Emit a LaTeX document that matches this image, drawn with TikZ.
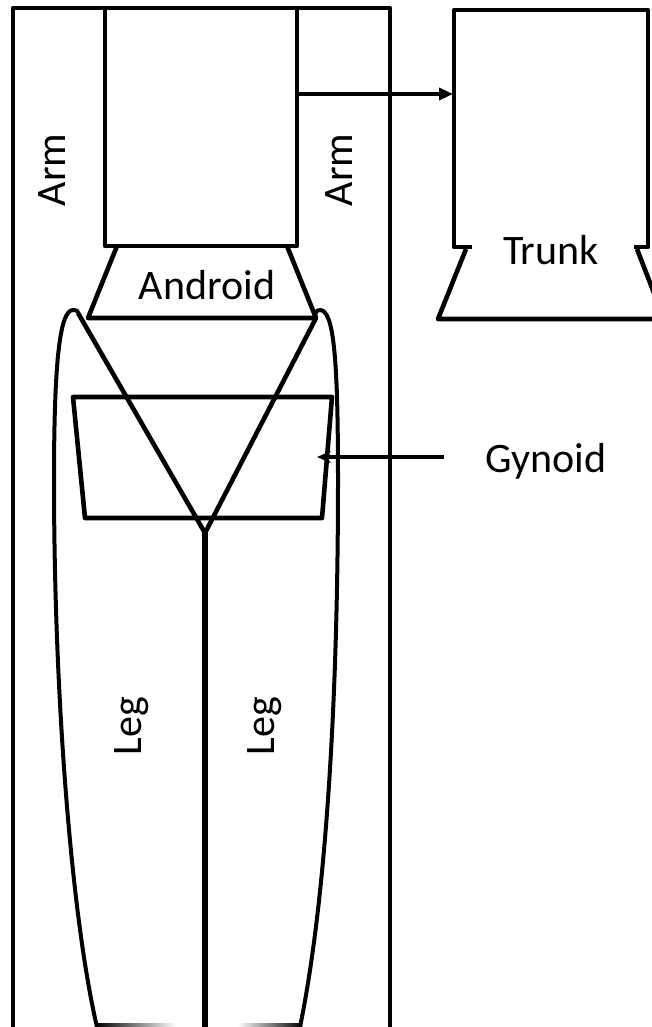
\documentclass[tikz,border=0pt]{standalone}
\usepackage{fontspec}
\setmainfont{Carlito}
\usetikzlibrary{arrows.meta}
\begin{document}
\begin{tikzpicture}[x=1pt,y=-1pt,
  ln/.style={draw=black, line width=4.6pt, line join=round},
  lbl/.style={font=\fontsize{42}{50}\selectfont, inner sep=0pt},
  vlbl/.style={lbl, rotate=90},
  tip/.style={-{Triangle[length=14pt,width=12pt]}},
  opentip/.style={-{Stealth[length=14pt,width=12pt,inset=5pt]}}]
\useasboundingbox (0,0) rectangle (652,1027);
\clip (0,0) rectangle (652,1027);
% outer body frame
\draw[ln] (13,1045) -- (13,8) -- (390,8) -- (390,1045);
% torso box
\draw[ln] (105,8) rectangle (297,246);
% android trapezoid
\draw[ln] (117,246) -- (88,318) -- (316,318) -- (287,246);
% gynoid box
\draw[ln] (73,397) -- (332,397) -- (322,518) -- (85,518) -- cycle;
% V and centre line
\coordinate (vl) at (78,313);
\coordinate (vr) at (316,318);
\coordinate (vb) at (205,533);
\coordinate (vend) at (205,1045);
\draw[ln] (vl) -- (vb) -- (vr);
\draw[ln, line width=5.5pt] (vb) -- (vend);
% legs
\draw[ln, line width=4pt] (97,1027) .. controls (72,920) and (54,700) .. (54,480)
  .. controls (54,360) and (60,310) .. (73,310) .. controls (77,310) and (79,312) .. (vl);
\draw[ln, line width=4pt] (300,1027) .. controls (326,900) and (338,700) .. (338,480)
  .. controls (338,360) and (334,310) .. (320,310) .. controls (316,310) and (314,314) .. (vr);
\shade[left color=black, right color=white] (96,1023) rectangle (176,1027);
\shade[left color=white, right color=black] (238,1023) rectangle (302,1027);
% trunk
\draw[ln] (472,247) -- (454,247) -- (454,10) -- (648,10) -- (648,247) -- (634,247);
\draw[ln] (466,249) -- (438,319) -- (660,319);
\draw[ln] (637,249) -- (664,319);
% arrows
\coordinate (a1) at (299,94);
\coordinate (a2) at (453,94);
\draw[ln, tip] (a1) -- (a2);
\coordinate (g1) at (444,457);
\coordinate (g2) at (317,457);
\draw[ln, opentip] (g1) -- (g2);
% labels
\node[vlbl] (armL) at (52,170) {Arm};
\node[vlbl] (armR) at (339,170) {Arm};
\node[lbl] (android) at (207,285) {Android};
\node[lbl] (trunk) at (551,250) {Trunk};
\node[lbl] (gynoid) at (546,461) {Gynoid};
\node[vlbl] (legL) at (132,726) {Leg};
\node[vlbl] (legR) at (265,726) {Leg};
\end{tikzpicture}
\end{document}
